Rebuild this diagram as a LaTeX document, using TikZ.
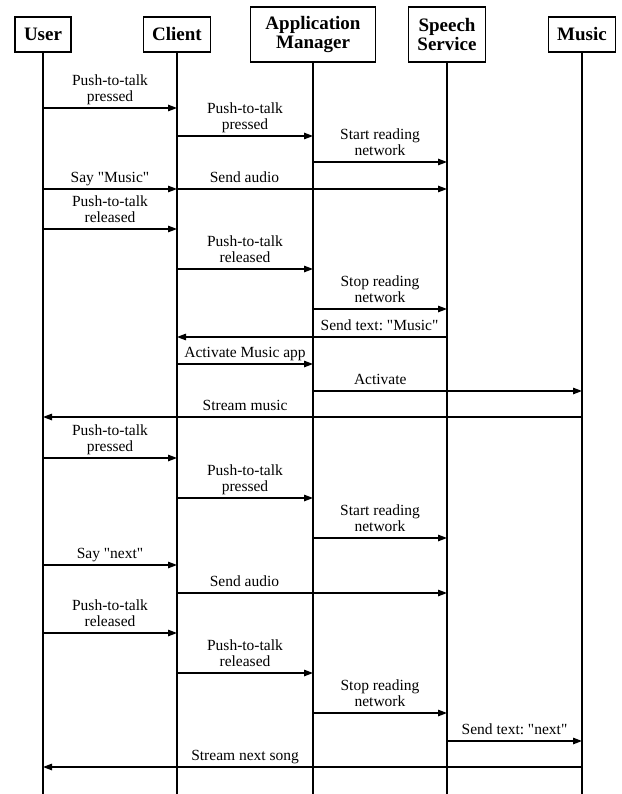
\documentclass[tikz,border=0pt]{standalone}
\usepackage{fontspec}
\setmainfont{Liberation Serif}[Ligatures=TeXOff]
\usepackage{tikz}
\usetikzlibrary{arrows.meta}
\frenchspacing
\tikzstyle{actor} = [draw, line width=1.3pt, inner xsep=9pt, minimum height=35pt, align=center, font=\fontsize{19}{19}\selectfont\bfseries]
\tikzstyle{life} = [line width=2.6pt]
\tikzstyle{msg} = [line width=1.3pt, -{Triangle[length=9pt,width=6.5pt]}]
\tikzstyle{lbl} = [anchor=south, align=center, inner xsep=1pt, inner ysep=2pt, text depth=3.5pt, font=\fontsize{15.5}{16}\selectfont]

\begin{document}
\begin{tikzpicture}[x=1pt,y=-1pt]
			\useasboundingbox (0,0) rectangle (621,794);
			% heads
			\node[actor] (user) at (43,34.5) {User};
			\node[actor] (client) at (177,34.5) {Client};
			\node[actor, minimum height=55pt, minimum width=125pt] (am) at (313,34.5) {Application\\Manager};
			\node[actor, minimum height=55pt] (speech) at (447,34.5) {Speech\\Service};
			\node[actor] (music) at (582,34.5) {Music};
			% lifelines
			\draw[life] (user) -- (user |- 0,794);
			\draw[life] (client) -- (client |- 0,794);
			\draw[life] (am) -- (am |- 0,794);
			\draw[life] (speech) -- (speech |- 0,794);
			\draw[life] (music) -- (music |- 0,794);
			% first request
			\draw[msg] (user |- 0,108) -- node[lbl]{Push-to-talk\\pressed} (client |- 0,108);
			\draw[msg] (client |- 0,136) -- node[lbl]{Push-to-talk\\pressed} (am |- 0,136);
			\draw[msg] (am |- 0,162) -- node[lbl]{Start reading\\network} (speech |- 0,162);
			\draw[msg] (user |- 0,189) -- node[lbl]{Say "Music"} (client |- 0,189);
			\draw[msg] (client |- 0,189) -- node[lbl, pos=0.25]{Send audio} (speech |- 0,189);
			\draw[msg] (user |- 0,229) -- node[lbl]{Push-to-talk\\released} (client |- 0,229);
			\draw[msg] (client |- 0,269) -- node[lbl]{Push-to-talk\\released} (am |- 0,269);
			\draw[msg] (am |- 0,309) -- node[lbl]{Stop reading\\network} (speech |- 0,309);
			\draw[msg] (speech |- 0,337) -- node[lbl, pos=0.25]{Send text: "Music"} (client |- 0,337);
			\draw[msg] (client |- 0,364) -- node[lbl]{Activate Music app} (am |- 0,364);
			\draw[msg] (am |- 0,391) -- node[lbl, pos=0.25]{Activate} (music |- 0,391);
			\draw[msg] (music |- 0,417) -- node[lbl, pos=0.625]{Stream music} (user |- 0,417);
			% second request
			\draw[msg] (user |- 0,458) -- node[lbl]{Push-to-talk\\pressed} (client |- 0,458);
			\draw[msg] (client |- 0,498) -- node[lbl]{Push-to-talk\\pressed} (am |- 0,498);
			\draw[msg] (am |- 0,538) -- node[lbl]{Start reading\\network} (speech |- 0,538);
			\draw[msg] (user |- 0,565) -- node[lbl]{Say "next"} (client |- 0,565);
			\draw[msg] (client |- 0,593) -- node[lbl, pos=0.25]{Send audio} (speech |- 0,593);
			\draw[msg] (user |- 0,633) -- node[lbl]{Push-to-talk\\released} (client |- 0,633);
			\draw[msg] (client |- 0,673) -- node[lbl]{Push-to-talk\\released} (am |- 0,673);
			\draw[msg] (am |- 0,713) -- node[lbl]{Stop reading\\network} (speech |- 0,713);
			\draw[msg] (speech |- 0,741) -- node[lbl]{Send text: "next"} (music |- 0,741);
			\draw[msg] (music |- 0,767) -- node[lbl, pos=0.625]{Stream next song} (user |- 0,767);
		\end{tikzpicture}
\end{document}
